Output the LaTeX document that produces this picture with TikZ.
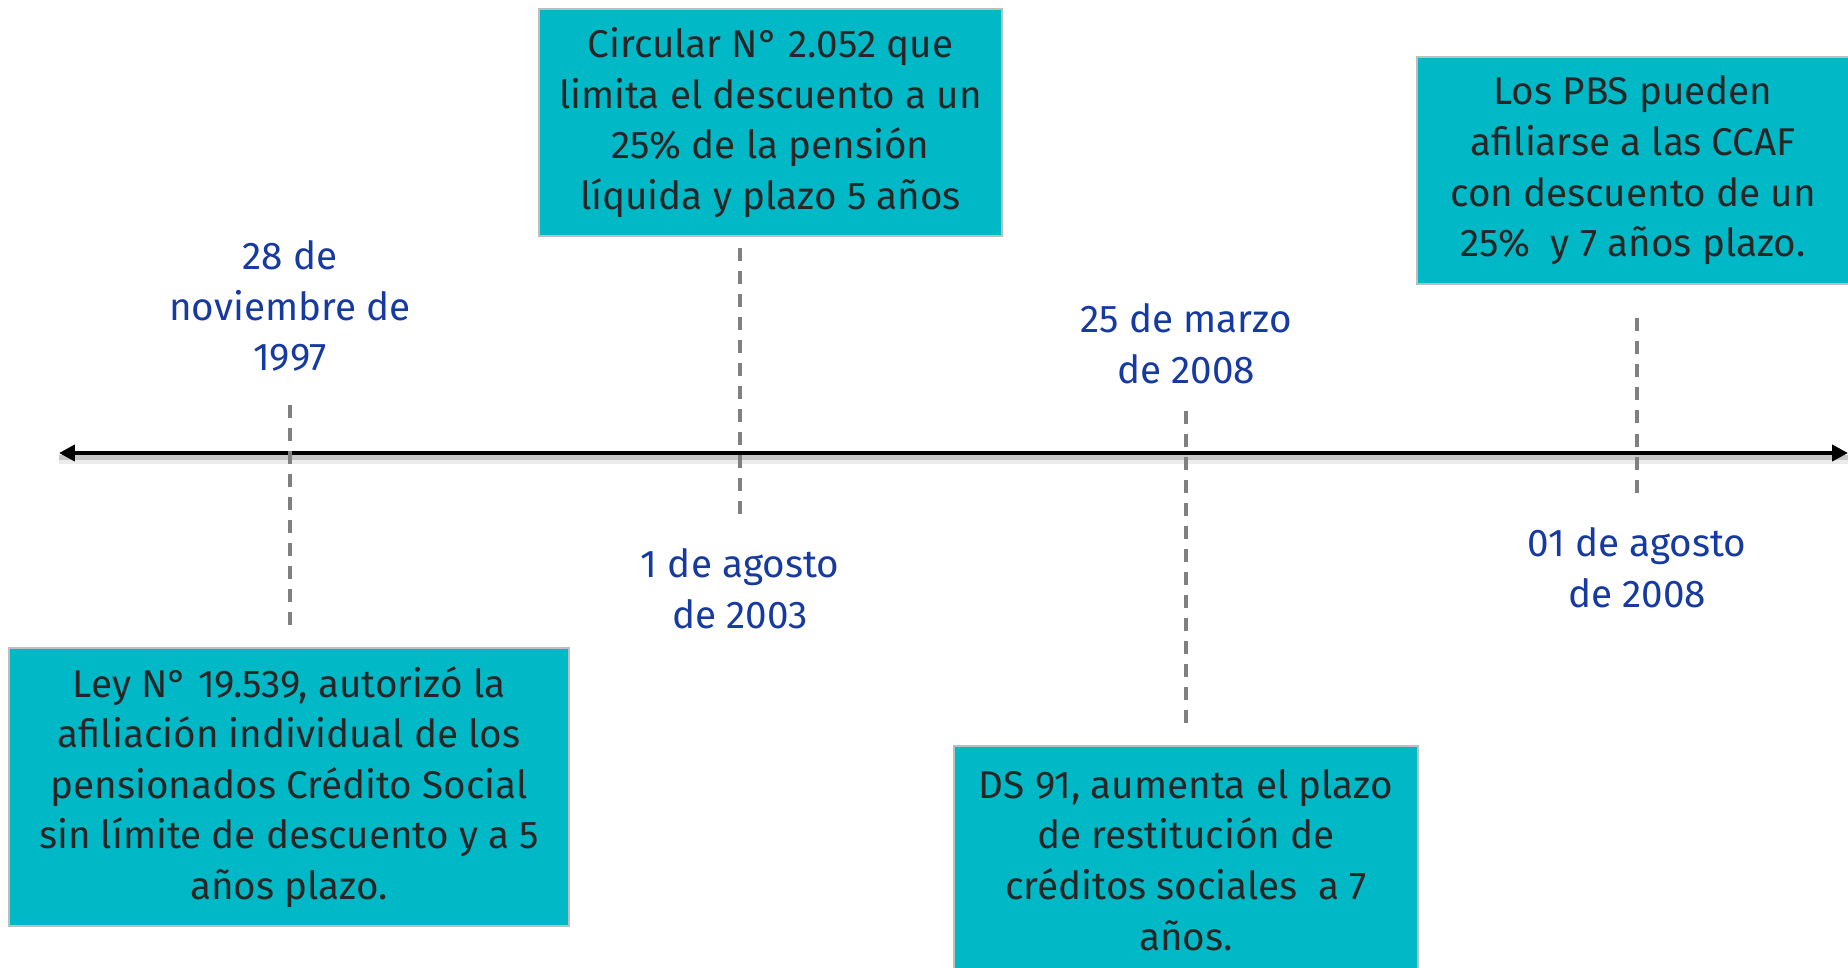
\documentclass[tikz,border=0pt]{standalone}
\usepackage{fontspec}
\setmainfont{Fira Sans}
\usetikzlibrary{arrows.meta}
\definecolor{tealbox}{RGB}{0,184,198}
\definecolor{datablue}{RGB}{22,58,160}
\definecolor{boxline}{RGB}{190,190,190}
\definecolor{dashgray}{RGB}{128,128,128}
\definecolor{boxtext}{RGB}{38,38,38}
\begin{document}
\begin{tikzpicture}[x=0.02cm,y=-0.02cm,
    hito/.style={draw=boxline,line width=1.2pt,fill=tealbox,text=boxtext,align=center,inner sep=0pt,font=\fontsize{22}{28.8}\selectfont},
    fecha/.style={text=datablue,align=center,inner sep=0pt,font=\fontsize{22}{28.8}\selectfont},
    guia/.style={dashgray,line width=2pt,dash pattern=on 7.4pt off 5.7pt}]
                \useasboundingbox (0,0) rectangle (1848,967);
                % eje del tiempo
                \coordinate (tl) at (59,453);
                \coordinate (tr) at (1848,453);
                \draw [line width=4pt, black!8] ([yshift=-4pt]tl) -- ([yshift=-4pt]tr);
                \draw [line width=2.5pt, black!22] ([yshift=-2.5pt]tl) -- ([yshift=-2.5pt]tr);
                \draw [line width=2.8pt, {Triangle[length=9pt,width=9pt]}-{Triangle[length=9pt,width=9pt]}] (tl) -- (tr);
                % cajas
                \node [hito, minimum width=9.26cm, minimum height=4.54cm] (circ) at (770.5, 122.5) {Circular N° 2.052 que\\limita el descuento a un\\25\% de la pensión\\líquida y plazo 5 años};
                \node [hito, minimum width=11.2cm, minimum height=5.56cm] (ley) at (289, 787) {Ley N° 19.539, autorizó la\\afiliación individual de los\\pensionados Crédito Social\\sin límite de descuento y a 5\\años plazo.};
                \node [hito, minimum width=9.28cm, minimum height=4.56cm] (ds) at (1186, 860) {DS 91, aumenta el plazo\\de restitución de\\créditos sociales\ \ a 7\\años.};
                \node [hito, minimum width=8.64cm, minimum height=4.54cm] (pbs) at (1633, 170.5) {Los PBS pueden\\afiliarse a las CCAF\\con descuento de un\\25\%\ \ y 7 años plazo.};
                % fechas
                \node [fecha] (d1997) at (290, 306) {28 de\\noviembre de\\1997};
                \node [fecha] (d2003) at (740, 589) {1 de agosto\\de 2003};
                \node [fecha] (d2008a) at (1186, 344) {25 de marzo\\de 2008};
                \node [fecha] (d2008b) at (1637, 568) {01 de agosto\\de 2008};
                % guias
                \draw [guia, shorten <=19pt, shorten >=8pt] (d1997.south) -- (d1997.south |- ley.north);
                \draw [guia, shorten <=6pt, shorten >=18pt] (d2003.north |- circ.south) -- (d2003.north);
                \draw [guia, shorten <=15pt, shorten >=11pt] (d2008a.south) -- (d2008a.south |- ds.north);
                \draw [guia, shorten <=19pt, shorten >=19pt] (d2008b.north |- pbs.south) -- (d2008b.north);
\end{tikzpicture}
\end{document}
